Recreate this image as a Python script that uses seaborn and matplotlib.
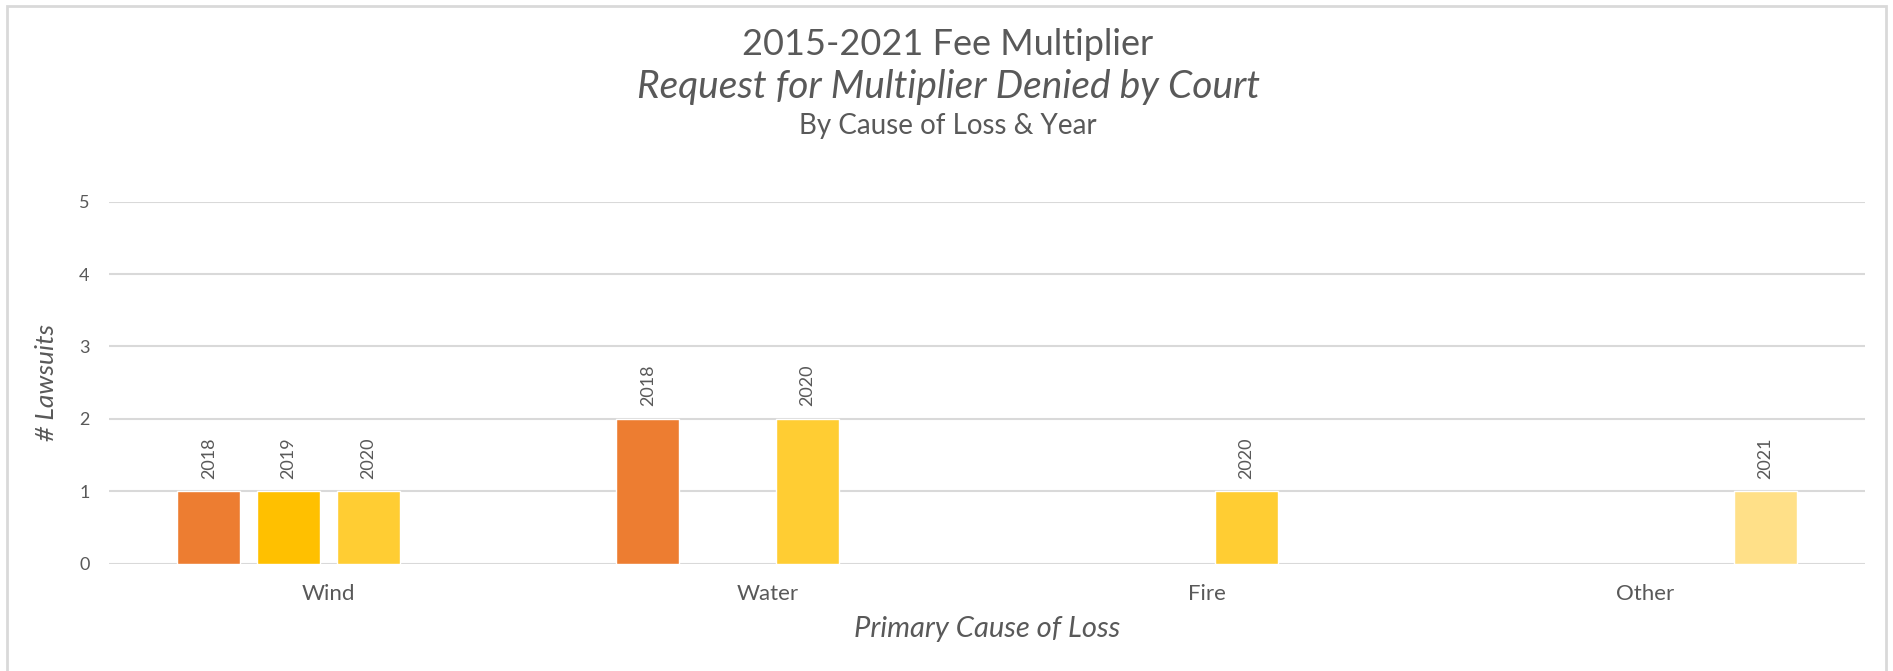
import matplotlib
matplotlib.use("Agg")
import matplotlib.pyplot as plt
from matplotlib.colors import to_hex
from matplotlib.patches import Rectangle
import seaborn as sns
import pandas as pd

# Data
causes = ["Wind", "Wind", "Wind", "Water", "Water", "Fire", "Other"]
years = ["2018", "2019", "2020", "2018", "2020", "2020", "2021"]
lawsuits = [1, 1, 1, 2, 2, 1, 1]

cause_order = ["Wind", "Water", "Fire", "Other"]
year_order = ["2018", "2019", "2020", "2021"]
year_colors = ["#ED7D31", "#FFC000", "#FFCD33", "#FFE088"]
y_ticks = [0, 1, 2, 3, 4, 5]

df = pd.DataFrame({"cause": causes, "year": years, "lawsuits": lawsuits})
palette = dict(zip(year_order, year_colors))

sns.set_style("white")
plt.rcParams["font.family"] = ["Lato", "DejaVu Sans"]
text_col = "#595959"
grid_col = "#D9D9D9"

fig = plt.figure(figsize=(18.93, 6.71), dpi=100)
ax = fig.add_axes([0.0576, 0.160, 0.9276, 0.5395])

sns.barplot(data=df, x="cause", y="lawsuits", hue="year",
            order=cause_order, hue_order=year_order, palette=palette,
            width=0.727, gap=0.21, saturation=1, errorbar=None,
            legend=False, ax=ax)

# year labels above each bar
color_to_year = {c.lower(): y for y, c in palette.items()}
for cont in ax.containers:
    yr = color_to_year.get(to_hex(cont.patches[0].get_facecolor()).lower(), "")
    ax.bar_label(cont, labels=[yr] * len(cont), rotation=90, padding=9,
                 fontsize=13, color=text_col)

ax.set_ylim(0, 5)
ax.set_yticks(y_ticks)
ax.set_xlim(-0.5, 3.5)
ax.yaxis.grid(True, color=grid_col, linewidth=1.5)
ax.set_axisbelow(True)
for s in ax.spines.values():
    s.set_visible(False)
ax.tick_params(axis="y", length=0, pad=14, labelsize=13, labelcolor=text_col)
ax.tick_params(axis="x", length=0, pad=15, labelsize=16, labelcolor=text_col)

ax.set_xlabel("Primary Cause of Loss", fontsize=21, style="italic",
              color=text_col, labelpad=8)
ax.set_ylabel("# Lawsuits", fontsize=19, style="italic",
              color=text_col, labelpad=15)

# titles
tx = 0.5008
fig.text(tx, 1 - 44.7 / 671, "2015-2021 Fee Multiplier", ha="center",
         va="center", fontsize=26, color=text_col)
fig.text(tx, 1 - 87 / 671, "Request for Multiplier Denied by Court",
         ha="center", va="center", fontsize=28, style="italic", color=text_col)
fig.text(tx, 1 - 126 / 671, "By Cause of Loss & Year", ha="center",
         va="center", fontsize=20, color=text_col)

# chart frame
fig.patches.append(Rectangle((7 / 1893, -0.01), 1879 / 1893, 1 - 6 / 671 + 0.01,
                             transform=fig.transFigure, fill=False,
                             edgecolor=grid_col, linewidth=2))

fig.savefig("out.png", dpi=100)
